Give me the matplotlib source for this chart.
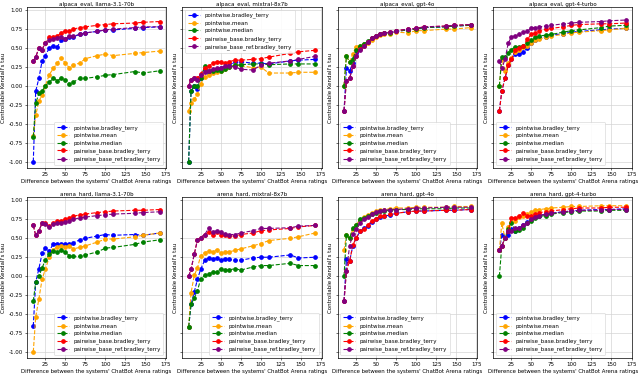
import matplotlib
matplotlib.use("Agg")
import matplotlib.pyplot as plt

# distance buckets (x axis) shared by every panel
diffs = [10, 13, 17, 21, 25, 30, 35, 40, 45, 50, 55, 60, 68, 75, 90, 100, 110, 137, 147, 168]

methods = ["pointwise.bradley_terry", "pointwise.mean", "pointwise.median",
           "pairwise_base.bradley_terry", "pairwise_base_ref.bradley_terry"]
colors = ["blue", "orange", "green", "red", "purple"]

titles = ["alpaca_eval, llama-3.1-70b", "alpaca_eval, mixtral-8x7b",
          "alpaca_eval, gpt-4o", "alpaca_eval, gpt-4-turbo",
          "arena_hard, llama-3.1-70b", "arena_hard, mixtral-8x7b",
          "arena_hard, gpt-4o", "arena_hard, gpt-4-turbo"]
legend_locs = ["lower right", "upper left", "lower left", "lower left",
               "lower right", "lower right", "lower left", "lower left"]

# alpaca_eval, llama-3.1-70b
ae_llama = [
    [-1.0, -0.07, 0.10, 0.33, 0.40, 0.50, 0.53, 0.52, 0.60, 0.62, 0.65, 0.65, 0.68, 0.70, 0.72, 0.74, 0.74, 0.76, 0.77, 0.78],
    [-0.66, -0.39, -0.20, -0.12, 0.0, 0.15, 0.23, 0.30, 0.37, 0.30, 0.24, 0.28, 0.30, 0.36, 0.40, 0.42, 0.40, 0.43, 0.44, 0.46],
    [-0.67, -0.23, -0.10, -0.07, 0.0, 0.05, 0.10, 0.07, 0.10, 0.08, 0.02, 0.05, 0.10, 0.10, 0.12, 0.14, 0.15, 0.19, 0.17, 0.20],
    [0.33, 0.38, 0.50, 0.48, 0.57, 0.65, 0.65, 0.66, 0.70, 0.73, 0.72, 0.75, 0.77, 0.78, 0.80, 0.81, 0.82, 0.83, 0.84, 0.85],
    [0.33, 0.38, 0.50, 0.48, 0.57, 0.60, 0.62, 0.63, 0.64, 0.62, 0.66, 0.66, 0.68, 0.70, 0.72, 0.74, 0.75, 0.77, 0.78, 0.78],
]
# alpaca_eval, mixtral-8x7b
ae_mixtral = [
    [-1.0, -0.07, 0.0, -0.04, 0.10, 0.22, 0.17, 0.19, 0.22, 0.24, 0.25, 0.28, 0.31, 0.32, 0.30, 0.30, 0.29, 0.33, 0.34, 0.35],
    [-0.33, -0.23, -0.17, -0.11, 0.03, 0.12, 0.14, 0.17, 0.19, 0.20, 0.22, 0.25, 0.27, 0.27, 0.24, 0.25, 0.17, 0.17, 0.18, 0.18],
    [-1.0, -0.07, 0.0, 0.0, 0.10, 0.26, 0.20, 0.20, 0.21, 0.20, 0.22, 0.25, 0.27, 0.28, 0.29, 0.29, 0.28, 0.29, 0.29, 0.29],
    [0.0, 0.08, 0.10, 0.10, 0.16, 0.24, 0.26, 0.30, 0.32, 0.32, 0.30, 0.32, 0.34, 0.34, 0.35, 0.36, 0.38, 0.43, 0.45, 0.47],
    [0.0, 0.08, 0.10, 0.08, 0.15, 0.19, 0.20, 0.22, 0.23, 0.24, 0.26, 0.26, 0.25, 0.22, 0.21, 0.27, 0.30, 0.33, 0.35, 0.39],
]
# alpaca_eval, gpt-4o
ae_gpt4o = [
    [-0.33, 0.23, 0.20, 0.30, 0.43, 0.50, 0.55, 0.58, 0.63, 0.66, 0.68, 0.70, 0.70, 0.72, 0.74, 0.75, 0.77, 0.78, 0.79, 0.80],
    [0.0, 0.39, 0.32, 0.42, 0.52, 0.53, 0.55, 0.57, 0.61, 0.65, 0.67, 0.69, 0.69, 0.71, 0.70, 0.73, 0.73, 0.75, 0.75, 0.77],
    [0.0, 0.39, 0.32, 0.35, 0.48, 0.53, 0.55, 0.59, 0.63, 0.66, 0.68, 0.70, 0.70, 0.72, 0.74, 0.75, 0.77, 0.78, 0.79, 0.80],
    [-0.33, 0.07, 0.10, 0.26, 0.40, 0.49, 0.53, 0.58, 0.63, 0.66, 0.68, 0.70, 0.71, 0.73, 0.75, 0.76, 0.78, 0.79, 0.80, 0.81],
    [-0.33, 0.07, 0.10, 0.26, 0.40, 0.48, 0.53, 0.58, 0.63, 0.66, 0.68, 0.70, 0.71, 0.73, 0.75, 0.76, 0.78, 0.79, 0.80, 0.81],
]
# alpaca_eval, gpt-4-turbo
ae_gpt4t = [
    [-0.33, -0.07, 0.10, 0.27, 0.35, 0.42, 0.42, 0.45, 0.50, 0.57, 0.60, 0.63, 0.65, 0.67, 0.69, 0.71, 0.72, 0.74, 0.75, 0.76],
    [0.0, 0.36, 0.20, 0.30, 0.37, 0.45, 0.48, 0.52, 0.53, 0.56, 0.60, 0.62, 0.64, 0.66, 0.68, 0.70, 0.71, 0.73, 0.74, 0.76],
    [0.0, 0.38, 0.38, 0.43, 0.48, 0.52, 0.51, 0.53, 0.56, 0.60, 0.64, 0.66, 0.67, 0.68, 0.71, 0.73, 0.74, 0.77, 0.79, 0.80],
    [-0.33, -0.07, 0.10, 0.27, 0.35, 0.48, 0.50, 0.53, 0.62, 0.68, 0.70, 0.73, 0.75, 0.76, 0.78, 0.80, 0.81, 0.82, 0.82, 0.83],
    [0.33, 0.23, 0.35, 0.56, 0.65, 0.66, 0.68, 0.71, 0.72, 0.77, 0.77, 0.78, 0.79, 0.80, 0.82, 0.83, 0.84, 0.85, 0.86, 0.87],
]
# arena_hard, llama-3.1-70b
ah_llama = [
    [-0.66, -0.08, 0.10, 0.30, 0.37, 0.33, 0.43, 0.43, 0.42, 0.42, 0.42, 0.44, 0.48, 0.50, 0.53, 0.55, 0.54, 0.55, 0.54, 0.57],
    [-1.0, -0.54, -0.30, -0.04, 0.09, 0.25, 0.35, 0.39, 0.40, 0.39, 0.40, 0.36, 0.38, 0.40, 0.45, 0.49, 0.49, 0.52, 0.54, 0.57],
    [-0.33, -0.08, 0.0, 0.11, 0.21, 0.29, 0.33, 0.32, 0.34, 0.32, 0.27, 0.26, 0.26, 0.28, 0.32, 0.37, 0.38, 0.42, 0.45, 0.48],
    [0.67, 0.54, 0.60, 0.70, 0.70, 0.66, 0.70, 0.73, 0.73, 0.75, 0.77, 0.79, 0.81, 0.82, 0.84, 0.85, 0.86, 0.87, 0.87, 0.88],
    [0.67, 0.54, 0.60, 0.70, 0.69, 0.65, 0.69, 0.70, 0.70, 0.72, 0.73, 0.75, 0.77, 0.78, 0.80, 0.81, 0.82, 0.83, 0.84, 0.85],
]
# arena_hard, mixtral-8x7b
ah_mixtral = [
    [-0.67, -0.37, -0.21, -0.04, 0.09, 0.21, 0.24, 0.22, 0.24, 0.21, 0.23, 0.22, 0.21, 0.21, 0.24, 0.25, 0.25, 0.28, 0.24, 0.25],
    [-0.67, -0.22, 0.01, 0.11, 0.27, 0.31, 0.33, 0.32, 0.35, 0.31, 0.32, 0.32, 0.34, 0.36, 0.40, 0.43, 0.47, 0.50, 0.52, 0.57],
    [-0.67, -0.37, -0.29, -0.19, -0.04, 0.01, 0.03, 0.05, 0.05, 0.10, 0.08, 0.08, 0.10, 0.08, 0.12, 0.14, 0.14, 0.17, 0.14, 0.14],
    [0.0, 0.09, 0.29, 0.48, 0.51, 0.55, 0.58, 0.55, 0.58, 0.55, 0.54, 0.53, 0.53, 0.55, 0.57, 0.60, 0.61, 0.63, 0.65, 0.67],
    [0.0, 0.09, 0.29, 0.48, 0.51, 0.55, 0.63, 0.58, 0.60, 0.58, 0.56, 0.55, 0.55, 0.57, 0.60, 0.63, 0.63, 0.64, 0.66, 0.67],
]
# arena_hard, gpt-4o
ah_gpt4o = [
    [-0.33, 0.22, 0.20, 0.40, 0.50, 0.59, 0.63, 0.66, 0.72, 0.75, 0.78, 0.79, 0.81, 0.83, 0.85, 0.86, 0.86, 0.87, 0.87, 0.88],
    [0.34, 0.54, 0.50, 0.62, 0.68, 0.74, 0.78, 0.81, 0.84, 0.86, 0.87, 0.88, 0.89, 0.90, 0.90, 0.91, 0.91, 0.91, 0.92, 0.92],
    [0.0, 0.54, 0.50, 0.64, 0.67, 0.76, 0.77, 0.80, 0.82, 0.84, 0.86, 0.86, 0.87, 0.88, 0.88, 0.89, 0.89, 0.89, 0.90, 0.90],
    [-0.33, 0.07, 0.20, 0.41, 0.50, 0.59, 0.62, 0.68, 0.73, 0.76, 0.79, 0.80, 0.82, 0.83, 0.85, 0.86, 0.86, 0.87, 0.87, 0.88],
    [-0.33, 0.07, 0.40, 0.56, 0.62, 0.70, 0.75, 0.78, 0.82, 0.85, 0.86, 0.87, 0.88, 0.88, 0.89, 0.90, 0.90, 0.91, 0.91, 0.91],
]
# arena_hard, gpt-4-turbo
ah_gpt4t = [
    [0.34, 0.54, 0.50, 0.55, 0.62, 0.60, 0.64, 0.67, 0.72, 0.75, 0.78, 0.80, 0.82, 0.83, 0.85, 0.86, 0.87, 0.88, 0.88, 0.89],
    [0.34, 0.70, 0.50, 0.65, 0.72, 0.73, 0.78, 0.80, 0.82, 0.85, 0.87, 0.88, 0.89, 0.90, 0.91, 0.92, 0.92, 0.93, 0.93, 0.93],
    [0.0, 0.40, 0.50, 0.62, 0.70, 0.60, 0.61, 0.63, 0.70, 0.73, 0.77, 0.79, 0.80, 0.82, 0.84, 0.85, 0.86, 0.86, 0.87, 0.87],
    [0.34, 0.40, 0.50, 0.60, 0.77, 0.77, 0.80, 0.83, 0.80, 0.79, 0.82, 0.84, 0.85, 0.86, 0.88, 0.89, 0.90, 0.90, 0.91, 0.91],
    [0.34, 0.40, 0.50, 0.60, 0.60, 0.63, 0.64, 0.68, 0.70, 0.75, 0.78, 0.80, 0.82, 0.83, 0.85, 0.86, 0.87, 0.87, 0.88, 0.88],
]

panels = [ae_llama, ae_mixtral, ae_gpt4o, ae_gpt4t, ah_llama, ah_mixtral, ah_gpt4o, ah_gpt4t]

fig, axes = plt.subplots(2, 4, figsize=(6.4, 3.76), dpi=100, sharey=True)
fig.subplots_adjust(left=0.042, right=0.988, top=0.981, bottom=0.048,
                    wspace=0.115, hspace=0.185)

for ax, title, series, loc in zip(axes.flat, titles, panels, legend_locs):
    for name, col, ys in zip(methods, colors, series):
        ax.plot(diffs, ys, "--", marker="o", color=col, label=name,
                lw=0.8, ms=2.4)
    ax.set_title(title, fontsize=4, pad=1.5)
    ax.set_xlabel("Difference between the systems' ChatBot Arena ratings",
                  fontsize=3.9, labelpad=1.5)
    ax.set_ylabel("Controllable Kendall's tau", fontsize=4, labelpad=1.5)
    ax.set_xticks([25, 50, 75, 100, 125, 150, 175])
    ax.set_yticks([-1.0, -0.75, -0.5, -0.25, 0.0, 0.25, 0.5, 0.75, 1.0])
    ax.set_xlim(2, 176)
    ax.set_ylim(-1.08, 1.04)
    ax.tick_params(labelsize=4, length=1.5, width=0.4, pad=1.5)
    ax.grid(True, color="#d4d4d4", lw=0.5)
    ax.set_axisbelow(True)
    for sp in ax.spines.values():
        sp.set_linewidth(0.5)
    ax.legend(loc=loc, fontsize=4, handlelength=2.2, borderpad=0.5,
              labelspacing=0.45, framealpha=0.9, edgecolor="#cccccc",
              fancybox=True).get_frame().set_linewidth(0.4)

for ax in axes[0]:
    ax.yaxis.set_major_formatter(matplotlib.ticker.FormatStrFormatter("%.2f"))

fig.savefig("out.png", dpi=100)
